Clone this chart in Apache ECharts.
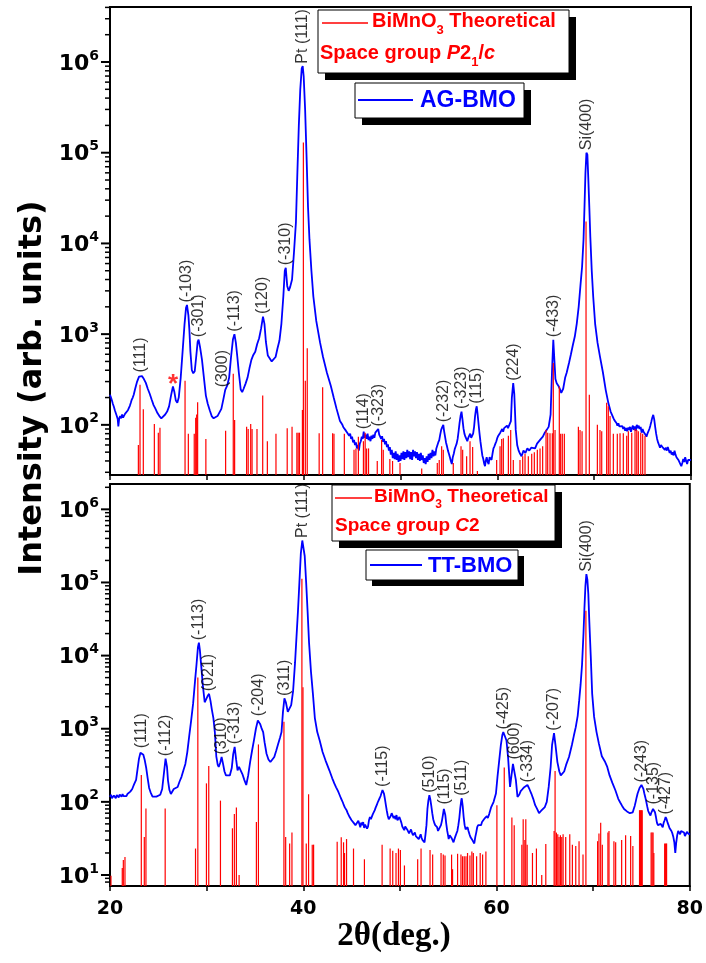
<!DOCTYPE html>
<html>
<head>
<meta charset="utf-8">
<script src="https://cdn.jsdelivr.net/npm/echarts@6/dist/echarts.min.js"></script>
<style>
  html, body { margin: 0; padding: 0; background: #fff; }
  #chart { width: 706px; height: 963px; }
</style>
</head>
<body>
<div id="chart"></div>
<script>
// ---- Measured XRD pattern of the as-grown film (2θ in degrees, counts) ----
const agBmo = [
  [20.0,215],[20.1,200],[20.2,185],[20.3,170],[20.4,158],[20.5,145],[20.6,138],[20.7,125],[20.8,115],[20.86,96],
  [20.95,118],[21.05,125],[21.15,118],[21.25,130],[21.35,120],[21.45,116],[21.55,132],[21.65,138],[21.75,130],[21.85,145],
  [21.95,150],[22.05,162],[22.15,175],[22.25,190],[22.35,200],[22.45,215],[22.6,250],[22.8,300],[23.0,340],[23.15,355],
  [23.3,345],[23.5,320],[23.7,290],[23.9,250],[24.1,220],[24.3,190],[24.5,165],[24.7,150],[24.9,135],[25.1,125],
  [25.3,118],[25.5,122],[25.7,130],[25.9,140],[26.1,160],[26.3,210],[26.5,265],[26.65,230],[26.8,185],[26.95,175],
  [27.1,200],[27.3,330],[27.5,650],[27.7,1300],[27.85,1950],[27.95,2100],[28.1,1600],[28.2,1100],[28.3,650],[28.45,400],
  [28.6,370],[28.75,390],[28.9,560],[29.05,820],[29.15,870],[29.3,720],[29.5,520],[29.7,330],[29.9,210],[30.1,170],
  [30.3,145],[30.5,125],[30.7,118],[30.9,122],[31.1,125],[31.3,130],[31.5,150],[31.7,190],[31.9,243],[32.1,270],
  [32.3,330],[32.5,560],[32.7,880],[32.85,1000],[33.0,800],[33.15,560],[33.3,380],[33.5,245],[33.65,230],[33.8,250],
  [34.0,285],[34.2,330],[34.4,420],[34.6,520],[34.8,590],[35.0,640],[35.2,780],[35.4,900],[35.6,1150],[35.8,1560],
  [35.95,1300],[36.1,820],[36.3,580],[36.5,540],[36.7,500],[36.9,510],[37.1,560],[37.3,700],[37.5,850],[37.7,1300],
  [37.9,2600],[38.05,5000],[38.15,5400],[38.3,3400],[38.45,3000],[38.6,3300],[38.8,4000],[39.0,8000],[39.2,17000],[39.35,60000],
  [39.5,200000],[39.65,500000],[39.8,850000],[39.9,900000],[40.0,700000],[40.15,300000],[40.3,90000],[40.45,25000],[40.6,11000],[40.8,5000],
  [41.0,2600],[41.3,1400],[41.7,800],[42.0,560],[42.4,375],[42.8,270],[43.1,200],[43.4,150],[43.75,110],[44.0,100],
  [44.1,94],[44.2,97],[44.3,88],[44.4,92],[44.5,82],[44.6,86],[44.7,76],[44.8,80],[44.9,70],[45.0,74],
  [45.1,64],[45.2,68],[45.3,60],[45.4,64],[45.5,55],[45.6,60],[45.7,52],[45.8,62],[45.9,66],[46.0,74],
  [46.1,70],[46.2,84],[46.3,72],[46.4,78],[46.5,70],[46.6,80],[46.7,68],[46.8,74],[46.9,66],[47.0,76],
  [47.1,70],[47.2,78],[47.3,72],[47.4,82],[47.5,78],[47.6,86],[47.7,90],[47.8,78],[47.9,74],[48.0,70],
  [48.1,75],[48.2,65],[48.3,70],[48.4,61],[48.5,66],[48.6,57],[48.7,61],[48.8,52],[48.9,57],[49.0,47],
  [49.1,53],[49.2,43],[49.3,49],[49.4,42],[49.5,51],[49.6,41],[49.7,48],[49.8,39],[49.9,46],[50.0,40],
  [50.1,49],[50.2,42],[50.3,51],[50.4,41],[50.5,50],[50.6,43],[50.7,53],[50.8,44],[50.9,51],[51.0,42],
  [51.1,50],[51.2,41],[51.3,53],[51.4,45],[51.5,51],[51.6,43],[51.7,50],[51.8,41],[51.9,48],[52.0,40],
  [52.1,49],[52.2,41],[52.3,46],[52.4,38],[52.5,43],[52.6,37],[52.7,45],[52.8,39],[52.9,48],[53.0,41],
  [53.1,49],[53.2,43],[53.3,53],[53.4,45],[53.5,51],[53.6,46],[53.7,55],[53.8,56],[53.9,64],[54.0,68],
  [54.1,78],[54.2,88],[54.3,94],[54.42,100],[54.5,86],[54.6,74],[54.7,64],[54.8,58],[54.9,52],[55.0,48],
  [55.1,44],[55.2,40],[55.3,37],[55.4,44],[55.5,48],[55.6,54],[55.7,58],[55.8,62],[55.9,70],[56.0,85],
  [56.1,105],[56.2,125],[56.3,140],[56.4,115],[56.5,92],[56.6,80],[56.7,74],[56.8,70],[56.9,66],[57.0,72],
  [57.1,76],[57.2,80],[57.3,72],[57.4,74],[57.5,80],[57.6,95],[57.7,125],[57.8,150],[57.87,160],[57.95,135],
  [58.05,105],[58.15,82],[58.25,66],[58.35,55],[58.45,46],[58.55,42],[58.65,37],[58.73,35],[58.8,40],[58.9,44],
  [59.0,39],[59.1,37],[59.2,44],[59.3,46],[59.4,41],[59.5,48],[59.6,55],[59.7,58],[59.8,62],[59.9,66],
  [60.0,72],[60.1,76],[60.2,74],[60.3,82],[60.4,86],[60.5,90],[60.6,84],[60.7,92],[60.8,95],[60.9,90],
  [61.0,98],[61.1,92],[61.2,90],[61.3,96],[61.4,110],[61.5,200],[61.64,288],[61.75,220],[61.9,88],[62.05,60],
  [62.2,52],[62.35,48],[62.5,45],[62.7,52],[62.9,49],[63.1,55],[63.3,52],[63.5,56],[63.7,58],[63.9,55],
  [64.1,62],[64.3,65],[64.5,70],[64.7,74],[64.9,82],[65.1,88],[65.3,95],[65.5,130],[65.65,400],[65.78,865],
  [65.9,500],[66.0,320],[66.13,288],[66.3,270],[66.45,250],[66.6,225],[66.8,250],[67.0,330],[67.16,375],[67.4,480],
  [67.6,600],[67.8,760],[68.0,940],[68.2,1300],[68.4,2000],[68.6,3600],[68.75,5500],[68.9,11000],[69.0,25000],[69.1,60000],
  [69.2,100000],[69.3,95000],[69.4,50000],[69.5,25000],[69.6,12000],[69.75,5000],[69.9,2600],[70.1,1300],[70.35,800],[70.6,565],
  [70.9,380],[71.2,240],[71.46,175],[71.7,140],[72.0,118],[72.1,112],[72.2,108],[72.3,105],[72.4,98],[72.5,104],
  [72.6,96],[72.7,100],[72.8,92],[72.9,97],[73.0,90],[73.1,95],[73.2,86],[73.3,92],[73.4,85],[73.5,93],
  [73.6,88],[73.7,95],[73.8,84],[73.9,92],[74.0,98],[74.1,88],[74.2,96],[74.3,86],[74.4,100],[74.5,92],
  [74.6,98],[74.7,90],[74.8,95],[74.9,82],[75.0,90],[75.1,84],[75.2,88],[75.3,78],[75.4,74],[75.5,80],
  [75.6,84],[75.7,90],[75.8,98],[75.9,108],[76.0,120],[76.1,129],[76.2,115],[76.3,95],[76.4,80],[76.5,70],
  [76.6,64],[76.7,60],[76.8,56],[76.9,60],[77.0,62],[77.1,56],[77.2,58],[77.3,53],[77.4,56],[77.5,52],
  [77.6,57],[77.7,55],[77.8,49],[77.9,52],[78.0,47],[78.1,50],[78.2,46],[78.3,52],[78.4,47],[78.5,44],
  [78.6,46],[78.7,41],[78.8,39],[78.9,37],[79.0,35],[79.1,38],[79.2,42],[79.3,39],[79.4,44],[79.5,40],
  [79.6,37],[79.7,41],[79.8,43],[79.9,39],[80.0,41]
];

// ---- Calculated reflections, monoclinic P2_1/c (2θ, intensity) ----
const p21cTheory = [
  [22.93,60],[23.1,276],[23.44,149],[24.58,102],[24.99,82],[25.16,93],[27.75,307],[28.09,80],[28.7,80],[28.85,120],
  [28.95,130],[29.05,178],[29.9,70],[31.94,86],[32.73,365],[32.87,113],[34.11,95],[34.27,90],[34.53,102],[34.67,90],
  [35.18,90],[35.77,210],[36.25,66],[37.14,80],[38.3,92],[38.8,95],[39.3,82],[39.43,82],[39.57,82],[39.87,146],
  [39.97,130000],[40.17,307],[40.37,700],[41.6,81],[41.96,260],[42.99,81],[43.13,80],[44.2,80],[45.2,53],[45.4,55],
  [45.65,74],[46.17,66],[46.35,82],[46.5,55],[46.7,55],[47.6,40],[48.05,68],[48.22,53],[48.9,42],[49.18,40],
  [49.95,38],[52.19,33],[53.8,38],[54.0,41],[54.25,58],[54.42,53],[55.45,38],[56.25,58],[56.42,53],[56.83,45],
  [57.18,66],[57.45,57],[57.94,31],[59.93,41],[60.28,58],[60.45,70],[60.62,71],[61.14,76],[61.38,88],[61.65,41],
  [62.34,41],[62.62,45],[62.86,48],[63.2,45],[63.55,48],[63.82,50],[64.13,53],[64.41,55],[64.68,58],[65.03,88],
  [65.2,82],[65.44,81],[65.68,81],[65.78,480],[65.96,88],[66.4,265],[66.54,80],[66.71,80],[66.92,80],[68.37,95],
  [68.54,88],[68.75,85],[69.16,17400],[69.5,215],[70.33,100],[70.6,88],[70.78,85],[71.29,175],[71.46,160],[71.64,125],
  [71.98,80],[72.39,80],[72.67,81],[73.01,81],[73.36,76],[73.53,85],[73.88,82],[74.22,90],[74.4,88],[74.56,85],
  [74.81,82],[75.01,80],[75.25,76]
];

// ---- Measured XRD pattern of the thermally treated film ----
const ttBmo = [
  [20.0,117],[20.1,125],[20.2,112],[20.3,110],[20.4,122],[20.5,116],[20.6,112],[20.7,124],[20.8,118],[20.9,115],
  [21.0,126],[21.1,120],[21.2,118],[21.3,128],[21.4,120],[21.5,115],[21.6,122],[21.7,120],[21.8,128],[21.9,130],
  [22.0,135],[22.1,138],[22.2,145],[22.3,150],[22.4,162],[22.5,175],[22.7,200],[22.85,280],[23.0,390],[23.15,470],
  [23.3,500],[23.45,440],[23.6,370],[23.75,290],[23.9,210],[24.05,155],[24.2,135],[24.4,118],[24.6,112],[24.8,118],
  [25.0,112],[25.2,125],[25.4,150],[25.6,260],[25.75,390],[25.9,300],[26.0,197],[26.15,145],[26.3,128],[26.45,135],
  [26.6,150],[26.8,145],[27.0,160],[27.2,190],[27.4,220],[27.6,270],[27.8,330],[28.0,480],[28.2,800],[28.4,1300],
  [28.6,2200],[28.8,4500],[28.95,7500],[29.1,13000],[29.2,15000],[29.3,12000],[29.45,7000],[29.6,4000],[29.8,2300],[29.95,2400],
  [30.1,2800],[30.25,3000],[30.4,2400],[30.55,1800],[30.7,1400],[30.85,900],[31.0,420],[31.15,320],[31.25,300],[31.4,340],
  [31.55,410],[31.7,330],[31.85,260],[32.0,230],[32.2,220],[32.4,230],[32.6,290],[32.75,450],[32.9,565],[33.05,380],
  [33.2,270],[33.35,300],[33.5,310],[33.7,240],[33.9,200],[34.1,170],[34.3,230],[34.5,350],[34.7,500],[34.9,700],
  [35.1,1000],[35.3,1300],[35.4,1370],[35.55,1150],[35.7,1000],[35.85,900],[36.0,650],[36.2,455],[36.4,380],[36.6,350],
  [36.8,360],[37.0,410],[37.2,500],[37.4,620],[37.6,760],[37.75,900],[37.9,1700],[38.05,2600],[38.2,2300],[38.4,1700],
  [38.55,1600],[38.75,2100],[38.95,3300],[39.15,8000],[39.3,18000],[39.45,40000],[39.6,100000],[39.75,250000],[39.9,375000],[40.0,370000],
  [40.15,230000],[40.3,100000],[40.45,40000],[40.6,15000],[40.8,6000],[41.0,3000],[41.2,1400],[41.45,900],[41.7,690],[42.0,480],
  [42.3,370],[42.7,270],[43.0,210],[43.1,195],[43.2,180],[43.3,170],[43.4,158],[43.5,150],[43.6,140],[43.7,130],
  [43.8,125],[43.9,112],[44.0,105],[44.1,98],[44.2,90],[44.3,84],[44.4,80],[44.5,76],[44.6,70],[44.7,68],
  [44.8,62],[44.9,60],[45.0,56],[45.1,58],[45.2,52],[45.3,54],[45.4,48],[45.5,51],[45.6,46],[45.7,55],
  [45.8,50],[45.9,45],[46.0,52],[46.1,48],[46.2,53],[46.3,44],[46.4,49],[46.5,50],[46.6,43],[46.7,46],
  [46.8,56],[46.9,62],[47.0,58],[47.1,60],[47.2,68],[47.3,72],[47.4,77],[47.5,84],[47.6,90],[47.7,98],
  [47.8,105],[47.9,112],[48.0,120],[48.1,132],[48.2,145],[48.26,148],[48.35,130],[48.45,110],[48.55,90],[48.65,75],
  [48.75,64],[48.85,58],[48.95,56],[49.05,64],[49.15,70],[49.25,66],[49.35,60],[49.45,64],[49.55,58],[49.65,66],
  [49.75,56],[49.85,54],[49.95,62],[50.05,57],[50.15,52],[50.25,46],[50.35,44],[50.45,41],[50.55,46],[50.65,48],
  [50.75,42],[50.85,40],[50.95,37],[51.05,39],[51.15,42],[51.25,38],[51.35,35],[51.45,37],[51.55,38],[51.65,34],
  [51.75,33],[51.85,35],[51.95,31],[52.05,33],[52.15,36],[52.25,32],[52.35,30],[52.45,29],[52.55,28],[52.65,36],
  [52.75,48],[52.85,80],[52.95,105],[53.05,123],[53.15,108],[53.25,88],[53.35,70],[53.45,58],[53.55,52],[53.65,48],
  [53.74,51],[53.85,45],[53.95,40],[54.05,38],[54.15,42],[54.25,48],[54.35,55],[54.45,66],[54.55,80],[54.6,85],
  [54.7,66],[54.8,50],[54.9,40],[55.0,34],[55.05,31],[55.15,35],[55.25,37],[55.35,32],[55.45,30],[55.55,28],
  [55.65,31],[55.75,34],[55.85,37],[55.95,40],[56.05,48],[56.15,60],[56.25,82],[56.35,105],[56.4,112],[56.5,88],
  [56.6,62],[56.7,48],[56.8,42],[56.9,40],[57.0,45],[57.1,40],[57.2,36],[57.3,33],[57.4,32],[57.5,30],
  [57.6,29],[57.7,27],[57.8,33],[57.9,38],[58.0,45],[58.1,48],[58.2,51],[58.3,46],[58.4,48],[58.5,53],
  [58.6,55],[58.7,52],[58.8,60],[58.9,58],[59.0,64],[59.1,60],[59.24,68],[59.45,85],[59.7,100],[59.94,130],
  [60.1,220],[60.28,370],[60.45,600],[60.6,820],[60.7,900],[60.85,800],[61.03,690],[61.2,400],[61.4,160],[61.55,230],
  [61.7,330],[61.83,350],[62.0,200],[62.17,117],[62.35,125],[62.5,140],[62.7,150],[62.9,160],[63.1,170],[63.2,170],
  [63.4,150],[63.6,130],[63.8,110],[64.0,90],[64.2,80],[64.4,70],[64.6,75],[64.8,72],[65.0,85],[65.2,100],
  [65.4,160],[65.6,300],[65.75,600],[65.95,870],[66.1,600],[66.3,350],[66.5,260],[66.65,230],[66.8,220],[67.0,260],
  [67.2,320],[67.5,410],[67.8,600],[68.0,800],[68.2,1050],[68.4,1500],[68.55,2400],[68.7,4000],[68.85,7500],[69.0,20000],
  [69.1,45000],[69.2,90000],[69.3,130000],[69.4,110000],[69.5,70000],[69.6,30000],[69.75,10000],[69.9,3000],[70.1,1450],[70.35,900],
  [70.6,620],[70.9,420],[71.2,360],[71.46,300],[71.7,230],[72.0,180],[72.3,144],[72.6,110],[72.7,104],[72.8,98],
  [72.9,95],[73.0,88],[73.1,85],[73.2,80],[73.3,78],[73.4,76],[73.5,74],[73.6,72],[73.7,75],[73.8,70],
  [73.9,68],[74.0,68],[74.1,72],[74.2,80],[74.3,88],[74.4,100],[74.5,115],[74.6,130],[74.7,142],[74.8,155],
  [74.9,165],[75.0,170],[75.1,165],[75.2,150],[75.3,130],[75.4,115],[75.5,100],[75.6,86],[75.7,75],[75.8,70],
  [75.93,65],[76.0,70],[76.1,75],[76.2,80],[76.3,85],[76.4,72],[76.5,62],[76.6,52],[76.7,48],[76.8,46],
  [76.9,50],[77.0,50],[77.1,47],[77.2,45],[77.3,52],[77.4,56],[77.5,62],[77.6,58],[77.7,52],[77.8,48],
  [77.9,44],[78.0,42],[78.1,40],[78.2,37],[78.3,33],[78.4,28],[78.5,20],[78.6,28],[78.7,35],[78.8,40],
  [78.9,38],[79.0,36],[79.1,40],[79.2,42],[79.3,38],[79.4,38],[79.5,34],[79.6,35],[79.7,39],[79.8,40],
  [79.9,36],[80.0,37]
];

// ---- Calculated reflections, monoclinic C2 ----
const c2Theory = [
  [20.1,9.8],[21.27,12.5],[21.38,16],[21.55,17.6],[23.24,233],[23.55,33],[23.72,81],[25.71,81],[28.85,23],[29.09,5000],
  [29.98,179],[30.22,310],[31.43,104],[32.67,43.5],[32.87,68],[33.08,84],[33.36,10],[35.15,53],[35.36,610],[38.0,1250],
  [38.18,33],[38.59,27],[38.83,38],[39.86,112000],[39.97,3700],[40.31,27],[40.55,127],[40.93,26],[41.07,26],[43.51,28.5],
  [43.93,32.8],[44.17,28],[44.27,20],[44.48,31],[45.2,23],[46.33,16.4],[48.16,26],[48.99,23],[49.26,21.5],[49.6,20],
  [49.85,23],[50.05,22],[50.47,13.5],[51.84,16.4],[52.19,23],[53.12,22],[53.39,19],[54.26,20],[54.49,19],[54.67,18.5],
  [55.35,19],[55.45,12],[55.97,19.5],[56.32,19],[56.49,18],[56.66,18],[56.84,18],[57.0,20],[57.25,18.5],[57.45,21],
  [57.6,20],[57.94,18],[58.31,20],[58.56,19],[58.9,21],[60.04,90],[60.8,295],[61.59,61],[61.83,48],[62.62,26],
  [62.76,58],[62.93,30],[63.03,58],[63.17,26],[63.72,20],[64.13,23],[64.68,10],[65.1,26.5],[65.96,40],[66.06,265],
  [66.2,38],[66.34,36],[66.47,33],[66.61,35],[66.75,33],[66.89,36],[67.16,33],[67.58,36],[67.85,26],[68.2,25],
  [68.54,29],[68.95,19],[69.25,41000],[70.46,29],[70.6,37],[70.78,52],[70.95,26],[71.53,38],[71.64,40],[72.15,29],
  [72.33,28],[72.95,30],[73.36,35],[73.88,34],[74.11,25],[74.8,77],[74.9,77],[75.0,77],[75.08,77],[76.0,38],
  [76.1,38],[76.2,38],[76.28,20],[77.4,27],[77.5,27],[77.6,27]
];

// ---- Peak indexing (label, 2θ) ----
const agPeakLabels = [
  ['(111)',23.15],['(-103)',27.95],['(-301)',29.15],['(300)',31.6],['(-113)',32.85],['(120)',35.8],['(-310)',38.1],
  ['Pt (111)',39.9],['(114)',46.2],['(-323)',47.7],['(-232)',54.42],['(-323)',56.3],['(115)',57.87],['(224)',61.64],
  ['(-433)',65.78],['Si(400)',69.2]
];
const agImpurityAt = [26.5];
const ttPeakLabels = [
  ['(111)',23.3],['(-112)',25.75],['(-113)',29.2],['(021)',30.25],['(310)',31.6],['(-313)',32.9],['(-204)',35.4],
  ['(311)',38.05],['Pt (111)',39.9],['(-115)',48.26],['(510)',53.05],['(115)',54.6],['(511)',56.4],['(-425)',60.7],
  ['(600)',61.83],['(-334)',63.2],['(-207)',65.95],['Si(400)',69.3],['(-243)',75.0],['(-135)',76.3],['(-427)',77.5]
];

// ---- Axis ticks ----
const X_MIN = 20, X_MAX = 80;
const xTickLabels = [20, 40, 60, 80];
const topDecades = [100, 1000, 10000, 100000, 1000000];
const bottomDecades = [10, 100, 1000, 10000, 100000, 1000000];
const topRange = [28, 4.04e6];
const bottomRange = [7.07, 2.22e6];

// 2..9 × 10^n inside the axis range
function minorTicks(decades, range) {
  const out = [];
  [decades[0] / 10].concat(decades).forEach(d => {
    for (let k = 2; k <= 9; k++) {
      const v = d * k;
      if (v >= range[0] && v <= range[1]) out.push(v);
    }
  });
  return out;
}

function peakAt(curve, theta, half) {
  let best = 0;
  curve.forEach(([t, v]) => { if (Math.abs(t - theta) <= half && v > best) best = v; });
  return best;
}

const BLUE = '#0000ff';
const RED = '#ff0000';
const SANS = 'Liberation Sans';

const powerLabel = v => '{b|10}{s|' + Math.round(Math.log10(v)) + '}';
const powerRich = {
  b: { fontFamily: 'DejaVu Sans', fontWeight: 'bold', fontSize: 22, color: '#000', lineHeight: 26, verticalAlign: 'bottom' },
  s: { fontFamily: 'DejaVu Sans', fontWeight: 'bold', fontSize: 14, color: '#000', lineHeight: 14, verticalAlign: 'top' }
};

function logY(grid, range, decades) {
  return {
    type: 'log', logBase: 10, gridIndex: grid, min: range[0], max: range[1], position: 'left',
    axisLine: { show: true, lineStyle: { color: '#000', width: 2 } },
    axisTick: { show: false },
    axisLabel: { customValues: decades, margin: 11, formatter: powerLabel, rich: powerRich },
    splitLine: { show: false }
  };
}
function xAxisFor(grid, withLabels) {
  const ax = {
    type: 'value', gridIndex: grid, min: X_MIN, max: X_MAX, interval: 10,
    axisLine: { show: true, onZero: false, lineStyle: { color: '#000', width: 2 } },
    axisTick: { show: true, length: 5, lineStyle: { color: '#000', width: 1.5 } },
    axisLabel: { show: withLabels, customValues: xTickLabels, margin: 14,
      fontFamily: 'DejaVu Sans', fontWeight: 'bold', fontSize: 19, color: '#000' },
    splitLine: { show: false }
  };
  if (withLabels) {
    ax.name = '2θ(deg.)';
    ax.nameLocation = 'middle';
    ax.nameGap = 28;
    ax.nameTextStyle = { fontFamily: 'Liberation Serif', fontWeight: 'bold', fontSize: 33, color: '#000', padding: [0, 12, 0, 0] };
  }
  return ax;
}

// outward tick marks on the log axis, placed through the axis scale
function yTickSeries(xi, yi, values, len, width) {
  return {
    type: 'custom', xAxisIndex: xi, yAxisIndex: yi, silent: true, clip: false, z: 6,
    data: values.map(v => [X_MIN, v]),
    renderItem: (params, api) => {
      const p = api.coord([api.value(0), api.value(1)]);
      return { type: 'line', shape: { x1: p[0] - len, y1: p[1], x2: p[0], y2: p[1] }, style: { stroke: '#000', lineWidth: width } };
    }
  };
}

function stickItem(params, api) {
  const top = api.coord([api.value(0), api.value(1)]);
  const cs = params.coordSys;
  const y1 = Math.max(top[1], cs.y);
  return {
    type: 'line',
    shape: { x1: top[0], y1: y1, x2: top[0], y2: cs.y + cs.height },
    style: { stroke: RED, lineWidth: 1.2 }
  };
}

function labelSeries(xi, yi, curve, labels) {
  return {
    type: 'scatter', xAxisIndex: xi, yAxisIndex: yi, symbol: 'circle', symbolSize: 1, silent: true, z: 5,
    itemStyle: { color: 'rgba(0,0,0,0)' },
    data: labels.map(([name, t]) => ({ name: name, value: [t, peakAt(curve, t, 0.3)] })),
    label: {
      show: true, position: 'top', distance: 2, rotate: 90, align: 'left', verticalAlign: 'middle',
      formatter: p => p.name, fontFamily: SANS, fontSize: 16, color: '#000'
    },
    labelLayout: { hideOverlap: false }
  };
}

function legendBox(x, y, w, h, shadow) {
  return [
    { type: 'rect', shape: { x: x + shadow, y: y + shadow, width: w, height: h }, style: { fill: '#000' }, z: 100 },
    { type: 'rect', shape: { x: x, y: y, width: w, height: h }, style: { fill: '#fff', stroke: '#000', lineWidth: 1 }, z: 101 }
  ];
}
function richLegendText(x, y, text, size, color) {
  return {
    type: 'text', x: x, y: y, z: 102,
    style: {
      text: text, fill: color, verticalAlign: 'middle', align: 'left',
      rich: {
        a: { fontFamily: SANS, fontWeight: 'bold', fontSize: size, fill: color, padding: [0, 0, 5, 0], verticalAlign: 'bottom' },
        i: { fontFamily: SANS, fontWeight: 'bold', fontStyle: 'italic', fontSize: size, fill: color, padding: [0, 0, 5, 0], verticalAlign: 'bottom' },
        sub: { fontFamily: SANS, fontWeight: 'bold', fontSize: Math.round(size * 0.65), fill: color, verticalAlign: 'bottom' }
      }
    }
  };
}

const graphics = [].concat(
  // top panel: calculated pattern key
  legendBox(318, 10, 251, 63, 7),
  [{ type: 'line', shape: { x1: 322, y1: 23, x2: 368, y2: 23 }, style: { stroke: RED, lineWidth: 1.5 }, z: 102 }],
  [richLegendText(372, 24, '{a|BiMnO}{sub|3}{a| Theoretical}', 20, RED)],
  [richLegendText(320, 56, '{a|Space group }{i|P}{a|2}{sub|1}{a|/}{i|c}', 20, RED)],
  // top panel: measured pattern key
  legendBox(355, 83, 169, 35, 7),
  [{ type: 'line', shape: { x1: 358, y1: 100, x2: 413, y2: 100 }, style: { stroke: BLUE, lineWidth: 2 }, z: 102 }],
  [{ type: 'text', x: 420, y: 101, z: 102, style: { text: 'AG-BMO', fill: BLUE, fontFamily: SANS, fontWeight: 'bold', fontSize: 23, verticalAlign: 'middle' } }],
  // bottom panel: calculated pattern key
  legendBox(332, 485, 223, 56, 7),
  [{ type: 'line', shape: { x1: 335, y1: 498, x2: 372, y2: 498 }, style: { stroke: RED, lineWidth: 1.5 }, z: 102 }],
  [richLegendText(374, 499, '{a|BiMnO}{sub|3}{a| Theoretical}', 19, RED)],
  [richLegendText(335, 528, '{a|Space group }{i|C}{a|2}', 19, RED)],
  // bottom panel: measured pattern key
  legendBox(366, 550, 152, 30, 6),
  [{ type: 'line', shape: { x1: 370, y1: 565, x2: 422, y2: 565 }, style: { stroke: BLUE, lineWidth: 2 }, z: 102 }],
  [{ type: 'text', x: 428, y: 566, z: 102, style: { text: 'TT-BMO', fill: BLUE, fontFamily: SANS, fontWeight: 'bold', fontSize: 22, verticalAlign: 'middle' } }],
  // shared intensity axis title
  [{ type: 'text', x: 33, y: 388, rotation: Math.PI / 2, z: 102,
     style: { text: 'Intensity (arb. units)', fill: '#000', fontFamily: 'DejaVu Sans', fontWeight: 'bold', fontSize: 32, align: 'center', verticalAlign: 'middle' } }]
);

const chart = echarts.init(document.getElementById('chart'), null, { renderer: 'canvas' });
chart.setOption({
  animation: false,
  backgroundColor: '#fff',
  grid: [
    { left: 110, top: 7, width: 581, height: 468, show: true, borderColor: '#000', borderWidth: 2, containLabel: false },
    { left: 110, top: 484, width: 581, height: 402, show: true, borderColor: '#000', borderWidth: 2, containLabel: false }
  ],
  xAxis: [xAxisFor(0, false), xAxisFor(1, true)],
  yAxis: [logY(0, topRange, topDecades), logY(1, bottomRange, bottomDecades)],
  series: [
    { name: 'AG-BMO', type: 'line', xAxisIndex: 0, yAxisIndex: 0, data: agBmo, showSymbol: false, symbol: 'none',
      lineStyle: { color: BLUE, width: 1.8 }, z: 2 },
    { name: 'P21/c', type: 'custom', xAxisIndex: 0, yAxisIndex: 0, data: p21cTheory, renderItem: stickItem, z: 3, clip: true },
    labelSeries(0, 0, agBmo, agPeakLabels),
    { type: 'scatter', xAxisIndex: 0, yAxisIndex: 0, symbol: 'circle', symbolSize: 1, silent: true, z: 5,
      itemStyle: { color: 'rgba(0,0,0,0)' },
      data: agImpurityAt.map(t => ({ name: '*', value: [t, peakAt(agBmo, t, 0.2)] })),
      label: { show: true, position: 'top', distance: -12, formatter: '*', color: RED, fontFamily: SANS, fontWeight: 'bold', fontSize: 26 } },
    yTickSeries(0, 0, topDecades, 9, 2),
    yTickSeries(0, 0, minorTicks(topDecades, topRange), 5, 1.5),
    { name: 'TT-BMO', type: 'line', xAxisIndex: 1, yAxisIndex: 1, data: ttBmo, showSymbol: false, symbol: 'none',
      lineStyle: { color: BLUE, width: 1.8 }, z: 2 },
    { name: 'C2', type: 'custom', xAxisIndex: 1, yAxisIndex: 1, data: c2Theory, renderItem: stickItem, z: 3, clip: true },
    labelSeries(1, 1, ttBmo, ttPeakLabels),
    yTickSeries(1, 1, bottomDecades, 9, 2),
    yTickSeries(1, 1, minorTicks(bottomDecades, bottomRange), 5, 1.5)
  ],
  graphic: graphics
});
</script>
</body>
</html>
